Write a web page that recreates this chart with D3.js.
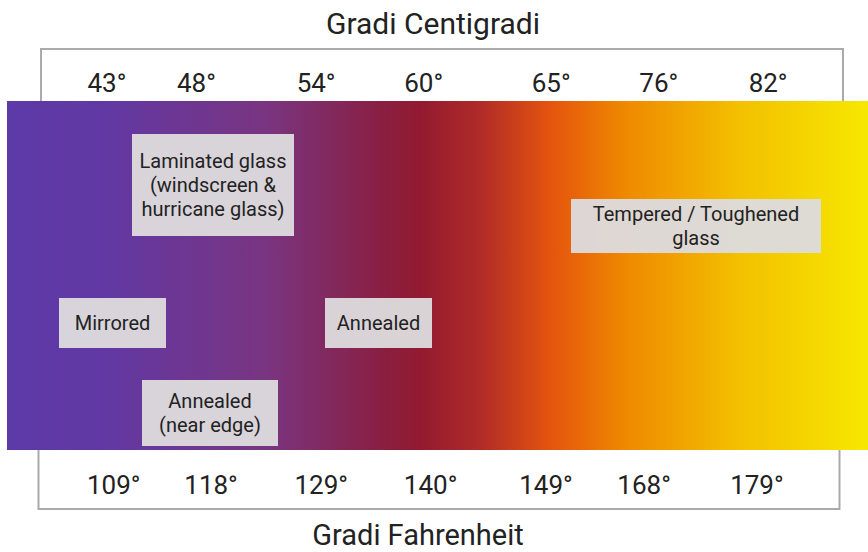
<!DOCTYPE html>
<html>
<head>
<meta charset="utf-8">
<script src="https://cdn.jsdelivr.net/npm/d3@7"></script>
<style>
  html, body { margin: 0; padding: 0; background: #fff; }
  svg { display: block; font-family: Roboto, "Noto Sans", sans-serif; }
</style>
</head>
<body>
<svg id="chart" width="868" height="552"></svg>
<script>
// ---- data ----
const celsiusLabels = ["43°", "48°", "54°", "60°", "65°", "76°", "82°"];
const fahrenheitLabels = ["109°", "118°", "129°", "140°", "149°", "168°", "179°"];
const glassTypes = [
  ["Laminated glass", "(windscreen &", "hurricane glass)"],
  ["Mirrored"],
  ["Annealed"],
  ["Annealed", "(near edge)"],
  ["Tempered / Toughened", "glass"]
];
const topTitle = "Gradi Centigradi";
const bottomTitle = "Gradi Fahrenheit";

// ---- layout (percent of strip width) ----
const celsiusPos = [11.6, 22.0, 35.9, 48.4, 63.2, 75.7, 88.4];
const fahrenheitPos = [12.4, 23.7, 36.5, 49.2, 62.6, 74.0, 87.1];
const boxLayout = [
  {x0: 132, x1: 294, y0: 134, y1: 236},
  {x0: 59,  x1: 166, y0: 298, y1: 348},
  {x0: 325, x1: 432, y0: 298, y1: 348},
  {x0: 142, x1: 278, y0: 380, y1: 446},
  {x0: 571, x1: 821, y0: 199, y1: 253}
];
const gradStops = [
  [0.00, "#5c3aa8"], [0.12, "#6238a2"], [0.30, "#793581"], [0.44, "#8a1e40"],
  [0.48, "#921a30"], [0.55, "#b02b28"], [0.63, "#e4530e"], [0.72, "#ef8a00"],
  [0.85, "#f3c000"], [1.00, "#f6e800"]
];

const svg = d3.select("#chart");
const x = d3.scaleLinear().domain([0, 100]).range([7, 868]);
const stripTop = 101, stripBottom = 450;

// boxes for scales
svg.append("rect").attr("x", 41).attr("y", 49).attr("width", 802).attr("height", 70)
  .attr("fill", "#fff").attr("stroke", "#aaa").attr("stroke-width", 2);
svg.append("rect").attr("x", 38.5).attr("y", 430).attr("width", 801).attr("height", 79)
  .attr("fill", "#fff").attr("stroke", "#aaa").attr("stroke-width", 2);

// gradient
const defs = svg.append("defs");
const lg = defs.append("linearGradient").attr("id", "heat")
  .attr("x1", "0%").attr("x2", "100%").attr("y1", "0%").attr("y2", "0%");
lg.selectAll("stop").data(gradStops).join("stop")
  .attr("offset", d => d[0]).attr("stop-color", d => d[1]);
svg.append("rect").attr("x", x(0)).attr("y", stripTop)
  .attr("width", x(100) - x(0)).attr("height", stripBottom - stripTop)
  .attr("fill", "url(#heat)");

// titles
svg.append("text").attr("x", 433).attr("y", 34).attr("text-anchor", "middle")
  .attr("font-size", 30).attr("fill", "#222").text(topTitle);
svg.append("text").attr("x", 418).attr("y", 545).attr("text-anchor", "middle")
  .attr("font-size", 29).attr("fill", "#222").text(bottomTitle);

// tick labels
svg.append("g").selectAll("text").data(celsiusLabels).join("text")
  .attr("x", (d, i) => x(celsiusPos[i])).attr("y", 92)
  .attr("text-anchor", "middle").attr("font-size", 26).attr("fill", "#222")
  .text(d => d);
svg.append("g").selectAll("text").data(fahrenheitLabels).join("text")
  .attr("x", (d, i) => x(fahrenheitPos[i])).attr("y", 494)
  .attr("text-anchor", "middle").attr("font-size", 26).attr("fill", "#222")
  .text(d => d);

// annotations
const ann = svg.append("g").selectAll("g").data(glassTypes).join("g");
ann.append("rect")
  .attr("x", (d, i) => boxLayout[i].x0).attr("y", (d, i) => boxLayout[i].y0)
  .attr("width", (d, i) => boxLayout[i].x1 - boxLayout[i].x0)
  .attr("height", (d, i) => boxLayout[i].y1 - boxLayout[i].y0)
  .attr("fill", "#dddbdd").attr("fill-opacity", 0.96);
ann.each(function(lines, i) {
  const b = boxLayout[i];
  const cx = (b.x0 + b.x1) / 2, cy = (b.y0 + b.y1) / 2;
  const lh = 24;
  const t = d3.select(this).append("text").attr("text-anchor", "middle")
    .attr("font-size", 20).attr("fill", "#222");
  lines.forEach((ln, k) => {
    t.append("tspan").attr("x", cx)
      .attr("y", cy + (k - (lines.length - 1) / 2) * lh)
      .attr("dy", "0.35em").text(ln);
  });
});
</script>
</body>
</html>
